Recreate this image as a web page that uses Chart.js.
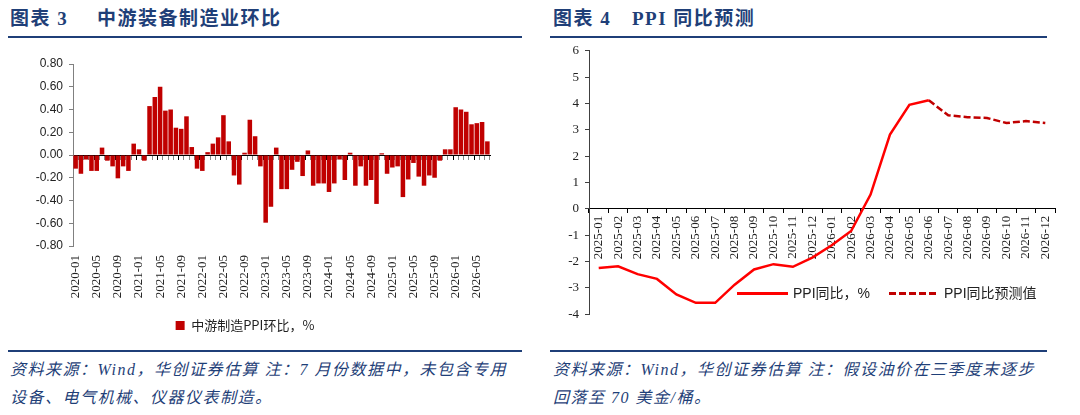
<!DOCTYPE html>
<html>
<head>
<meta charset="utf-8">
<script src="https://cdn.jsdelivr.net/npm/chart.js@4.4.1/dist/chart.umd.min.js"></script>
<style>
  body { margin: 0; width: 1080px; height: 415px; background: #fff; position: relative; overflow: hidden; }
  .title { position: absolute; top: 3px; font: bold 19px "Liberation Serif", "Noto Sans CJK SC", serif; color: #1f3f78; letter-spacing: 1.5px; white-space: nowrap; }
  .rule { position: absolute; height: 2px; background: #1f3f78; }
  .note { position: absolute; top: 356px; font: italic 16px/28px "Liberation Serif", "Noto Sans CJK SC", serif; color: #1f3f78; letter-spacing: 1.5px; white-space: nowrap; }
  .wrap { position: absolute; }
  .leg { position: absolute; font: 14px/18px "Liberation Sans", "Noto Sans CJK SC", sans-serif; color: #222; white-space: nowrap; }
  .swatch { position: absolute; height: 3px; }
</style>
</head>
<body>
<div class="title" style="left:10px">图表 3</div>
<div class="title" style="left:97px">中游装备制造业环比</div>
<div class="title" style="left:553px">图表 4</div>
<div class="title" style="left:632px">PPI 同比预测</div>
<div class="rule" style="left:8px;top:36px;width:514px"></div>
<div class="rule" style="left:550px;top:36px;width:497px"></div>
<div class="rule" style="left:8px;top:350px;width:514px"></div>
<div class="rule" style="left:550px;top:350px;width:497px"></div>
<div class="note" style="left:10px">资料来源：Wind，华创证券估算 注：7 月份数据中，未包含专用<br>设备、电气机械、仪器仪表制造。</div>
<div class="note" style="left:553px">资料来源：Wind，华创证券估算 注：假设油价在三季度末逐步<br>回落至 70 美金/桶。</div>

<div class="wrap" style="left:0;top:40px"><canvas id="bars" width="530" height="302"></canvas></div>
<div class="wrap" style="left:540px;top:37px"><canvas id="ppi" width="540" height="291"></canvas></div>

<div class="swatch" style="left:737px;top:292px;width:51px;background:#ff0000"></div>
<div class="leg" style="left:793px;top:284px">PPI同比，%</div>
<div class="swatch" style="left:889px;top:292px;width:50px;background:repeating-linear-gradient(90deg,#c00000 0 7px,transparent 7px 10px)"></div>
<div class="leg" style="left:944px;top:284px">PPI同比预测值</div>

<script>
// 图表3: 2020-01 .. 2026-07
const barMonths = [];
for (let y = 2020; y <= 2026; y++) {
  for (let m = 1; m <= 12; m++) barMonths.push(y + '-' + String(m).padStart(2, '0'));
}
barMonths.length = 79;

const midstreamMoM = [
  -0.12, -0.165, -0.04, -0.14, -0.14, 0.065, -0.05, -0.10, -0.205, -0.10, -0.14, 0.10,
  0.05, -0.05, 0.43, 0.51, 0.60, 0.39, 0.40, 0.24, 0.23, 0.34, 0.07, -0.12,
  -0.14, 0.025, 0.10, 0.155, 0.35, 0.12, -0.18, -0.26, 0.02, 0.31, 0.165, -0.10,
  -0.595, -0.455, 0.065, -0.30, -0.30, -0.13, -0.06, -0.185, 0.04, -0.27, -0.25, -0.25,
  -0.325, -0.25, -0.04, -0.22, 0.02, -0.27, -0.10, -0.27, -0.22, -0.43, 0.015, -0.165,
  -0.11, -0.10, -0.37, -0.215, -0.07, -0.19, -0.27, -0.18, -0.20, -0.05, 0.05, 0.05,
  0.42, 0.40, 0.38, 0.27, 0.28, 0.29, 0.12
];

// 图表4
const ppiMonths = [
  '2025-01', '2025-02', '2025-03', '2025-04', '2025-05', '2025-06',
  '2025-07', '2025-08', '2025-09', '2025-10', '2025-11', '2025-12',
  '2026-01', '2026-02', '2026-03', '2026-04', '2026-05', '2026-06',
  '2026-07', '2026-08', '2026-09', '2026-10', '2026-11', '2026-12'
];
const ppiActual = [-2.25, -2.18, -2.48, -2.66, -3.25, -3.57, -3.57, -2.88, -2.3, -2.1, -2.2, -1.85,
  -1.38, -0.84, 0.54, 2.82, 3.95, 4.12];
const ppiForecast = [null, null, null, null, null, null, null, null, null, null, null, null,
  null, null, null, null, null, 4.12, 3.55, 3.48, 3.45, 3.26, 3.33, 3.26];

const serif = 'Liberation Serif';
const cjk = '"Noto Sans CJK SC"';

new Chart(document.getElementById('bars'), {
  type: 'bar',
  data: {
    labels: barMonths,
    datasets: [{
      label: '中游制造PPI环比，%',
      data: midstreamMoM,
      backgroundColor: '#c00000',
      borderWidth: 0,
      barPercentage: 0.86,
      categoryPercentage: 1
    }]
  },
  options: {
    responsive: false,
    animation: false,
    layout: { padding: { top: 24, right: 40, left: 0, bottom: 0 } },
    plugins: {
      tooltip: { enabled: false },
      legend: {
        position: 'bottom',
        labels: { boxWidth: 9, boxHeight: 9, padding: 10, color: '#222', font: { family: cjk, size: 13 } }
      }
    },
    scales: {
      // axis line at zero with the tick marks
      x: {
        type: 'category',
        position: { y: 0 },
        offset: true,
        grid: { offset: true, drawOnChartArea: false, tickLength: 4, color: c => c.index % 4 === 0 ? '#000' : '#888' },
        border: { color: '#000', width: 1 },
        ticks: { display: false },
        afterFit: s => { s.height = 0; }
      },
      // month labels at the bottom
      xl: {
        type: 'category',
        position: 'bottom',
        labels: barMonths,
        offset: true,
        grid: { display: false, drawTicks: false },
        border: { display: false },
        ticks: {
          autoSkip: false, maxRotation: 90, minRotation: 90, padding: 9,
          color: '#222', font: { family: serif, size: 13 },
          callback(v, i) { return i % 4 === 0 ? this.getLabelForValue(v) : ''; }
        },
        afterFit: s => { s.height = 63; }
      },
      y: {
        min: -0.8, max: 0.8,
        ticks: {
          stepSize: 0.2, padding: 6, color: '#222', font: { family: 'Liberation Sans', size: 12 },
          callback: v => (Math.abs(v) < 1e-9 ? 0 : v).toFixed(2)
        },
        grid: { drawOnChartArea: false, tickLength: 4, color: '#808080' },
        border: { color: '#808080' },
        afterFit: s => { s.width = 73; }
      }
    }
  }
});

new Chart(document.getElementById('ppi'), {
  type: 'line',
  data: {
    labels: ppiMonths,
    datasets: [
      {
        label: 'PPI同比，%',
        data: ppiActual,
        borderColor: '#ff0000',
        borderWidth: 2.5,
        pointRadius: 0,
        tension: 0
      },
      {
        label: 'PPI同比预测值',
        data: ppiForecast,
        borderColor: '#c00000',
        borderWidth: 2.5,
        borderDash: [7, 3],
        pointRadius: 0,
        tension: 0
      }
    ]
  },
  options: {
    responsive: false,
    animation: false,
    layout: { padding: { top: 6, right: 25, left: 0, bottom: 0 } },
    plugins: { tooltip: { enabled: false }, legend: { display: false } },
    scales: {
      x: {
        type: 'category',
        position: { y: 0 },
        offset: true,
        grid: { offset: true, drawOnChartArea: false, tickLength: 4, color: '#000' },
        border: { color: '#000' },
        ticks: { autoSkip: false, maxRotation: 90, minRotation: 90, padding: 3, color: '#222', font: { family: serif, size: 13 } },
        afterFit: s => { s.height = 0; }
      },
      y: {
        min: -4, max: 6,
        ticks: { stepSize: 1, padding: 6, color: '#222', font: { family: serif, size: 13 } },
        grid: { drawOnChartArea: false, tickLength: 4, color: '#404040' },
        border: { color: '#404040' },
        afterFit: s => { s.width = 49; }
      }
    }
  }
});
</script>
</body>
</html>
